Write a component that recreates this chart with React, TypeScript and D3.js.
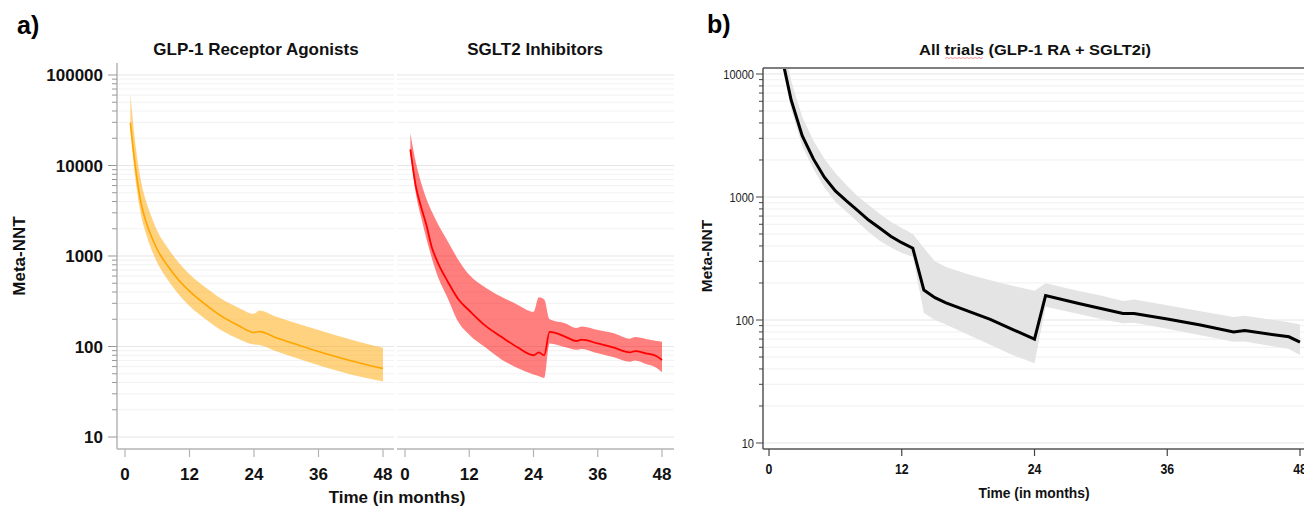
import React from 'react';
import * as d3 from 'd3';

// GLP-1 receptor agonists (months, meta-NNT with lower / upper band)
const glpMonths = [1, 2, 3, 4, 5, 6, 8, 10, 12, 15, 18, 21, 24, 25, 28, 32, 36, 40, 44, 48];
const glpNnt = [29700, 9000, 3800, 2300, 1600, 1180, 770, 540, 410, 290, 215, 172, 143, 146, 126, 105, 88, 75, 65, 57];
const glpLower = [24000, 6600, 2800, 1700, 1150, 840, 540, 375, 280, 200, 150, 122, 105, 104, 89, 74, 62, 53, 46, 41];
const glpUpper = [62000, 16000, 6600, 3900, 2650, 1900, 1220, 840, 630, 450, 335, 270, 230, 250, 215, 180, 152, 129, 111, 97];

// SGLT2 inhibitors
const sgltMonths = [1, 2, 3, 4, 5, 6, 8, 10, 12, 15, 18, 21, 24, 25, 26, 27, 30, 32, 33, 36, 39, 42, 43, 45, 47, 48];
const sgltNnt = [15100, 6000, 3500, 2200, 1250, 880, 520, 330, 250, 170, 128, 98, 80, 86, 80, 145, 128, 115, 119, 108, 97, 86, 89, 84, 78, 71];
const sgltLower = [14000, 5000, 2700, 1550, 950, 620, 340, 185, 135, 98, 72, 58, 49, 47, 45, 108, 98, 92, 94, 84, 76, 68, 70, 64, 58, 52];
const sgltUpper = [22700, 11000, 6500, 4300, 3100, 2350, 1450, 900, 620, 450, 355, 290, 242, 350, 330, 200, 180, 160, 166, 152, 140, 122, 127, 121, 115, 113];

// All trials (GLP-1 RA + SGLT2i)
const allMonths = [1, 2, 3, 4, 5, 6, 7, 8, 9, 10, 11, 12, 13, 14, 15, 16, 18, 20, 22, 24, 25, 28, 30, 32, 33, 36, 39, 42, 43, 47, 48];
const allNnt = [16100, 6150, 3150, 2050, 1450, 1120, 930, 780, 650, 560, 480, 425, 383, 175, 152, 138, 118, 101, 84, 70, 158, 136, 124, 113, 113, 102, 91, 80, 82, 73, 66];
const allLower = [14000, 5200, 2600, 1700, 1200, 916, 760, 630, 520, 440, 390, 350, 327, 114, 100, 92, 76, 63, 52, 44.5, 128, 112, 102, 94, 95, 85, 75, 66.5, 67, 58, 52];
const allUpper = [25000, 8800, 4500, 2900, 2050, 1570, 1250, 1020, 860, 730, 630, 560, 500, 385, 300, 270, 235, 210, 190, 173, 199, 172, 158, 143, 147, 132, 118, 106, 108.5, 96, 92];

const xTicks = [0, 12, 24, 36, 48];
const yTicksA = [10, 100, 1000, 10000, 100000];
const yTicksB = [10, 100, 1000, 10000];

const FONT = '"Liberation Sans", Arial, Helvetica, sans-serif';

type Pt = { m: number; v: number; lo: number; hi: number };
const zip = (ms: number[], v: number[], lo: number[], hi: number[]): Pt[] =>
  ms.map((m, i) => ({ m, v: v[i], lo: lo[i], hi: hi[i] }));

// minor log ticks 1..9 x decade
const logMinor = (from: number, to: number) => {
  const out: number[] = [];
  for (let d = from; d < to; d *= 10) for (let k = 1; k < 10; k++) out.push(d * k);
  out.push(to);
  return out;
};

const Grid = ({ y, vals, x0, x1, major }: any) => (
  <g>
    {vals.map((v: number, i: number) => (
      <line key={i} x1={x0} x2={x1} y1={y(v)} y2={y(v)}
        stroke={major.includes(v) ? '#e6e6e6' : '#f3f3f3'} strokeWidth={1.2} />
    ))}
  </g>
);

const Band = ({ data, x, y, fill, stroke, width, curve }: any) => {
  const area = d3.area<Pt>().x(d => x(d.m)).y0(d => y(d.lo)).y1(d => y(d.hi)).curve(curve);
  const line = d3.line<Pt>().x(d => x(d.m)).y(d => y(d.v)).curve(curve);
  return (
    <g>
      <path d={area(data) || ''} fill={fill} />
      <path d={line(data) || ''} fill="none" stroke={stroke} strokeWidth={width} strokeLinejoin="miter" />
    </g>
  );
};

const XAxis = ({ x, y0, x0, x1, color }: any) => (
  <g>
    <line x1={x0} x2={x1} y1={y0} y2={y0} stroke={color} strokeWidth={1.5} />
    {xTicks.map(t => (
      <g key={t}>
        <line x1={x(t)} x2={x(t)} y1={y0} y2={y0 + 8} stroke={color} strokeWidth={1.2} />
        <text x={x(t)} y={y0 + 31} textAnchor="middle" fontSize={17} fontWeight="bold" fill="#111">{t}</text>
      </g>
    ))}
  </g>
);

export default function App() {
  const yA = d3.scaleLog().domain([10, 100000]).range([437, 75]);
  const xGlp = d3.scaleLinear().domain([0, 48]).range([125, 383]);
  const xSglt = d3.scaleLinear().domain([0, 48]).range([405, 662]);
  const yB = d3.scaleLog().domain([10, 10000]).range([443, 74]);
  const xB = d3.scaleLinear().domain([0, 48]).range([769, 1300]);

  const minorA = logMinor(10, 100000);
  const minorB = logMinor(10, 10000);

  const glp = zip(glpMonths, glpNnt, glpLower, glpUpper);
  const sglt = zip(sgltMonths, sgltNnt, sgltLower, sgltUpper);
  const all = zip(allMonths, allNnt, allLower, allUpper);

  const axisGray = '#b4b4b4';

  return (
    <svg width={1304} height={509} style={{ position: 'absolute', left: 0, top: 0, background: '#fff' }}
      fontFamily={FONT}>
      <defs>
        <clipPath id="clipB"><rect x={764} y={69} width={540} height={379} /></clipPath>
        <clipPath id="clipA"><rect x={117} y={60} width={560} height={389} /></clipPath>
      </defs>

      {/* ---------- panel a ---------- */}
      <text x={17} y={34} fontSize={25} fontWeight="bold" fill="#000">a)</text>
      <text x={256} y={55} textAnchor="middle" fontSize={17} fontWeight="bold" fill="#111">GLP-1 Receptor Agonists</text>
      <text x={535} y={55} textAnchor="middle" fontSize={17} fontWeight="bold" fill="#111">SGLT2 Inhibitors</text>

      <Grid y={yA} vals={minorA} x0={118} x1={394} major={yTicksA} />
      <Grid y={yA} vals={minorA} x0={397} x1={674} major={yTicksA} />

      {/* y axis */}
      <line x1={117} x2={117} y1={63} y2={449} stroke={axisGray} strokeWidth={1.5} />
      {minorA.map((v, i) => {
        const major = yTicksA.includes(v);
        return <line key={i} x1={major ? 108 : 112} x2={117} y1={yA(v)} y2={yA(v)} stroke="#999" strokeWidth={1} />;
      })}
      {yTicksA.map(t => (
        <text key={t} x={103} y={yA(t) + 6} textAnchor="end" fontSize={17} fontWeight="bold" fill="#111">{t}</text>
      ))}
      <text transform={`translate(25,256) rotate(-90)`} textAnchor="middle" fontSize={17} fontWeight="bold" fill="#111">Meta-NNT</text>

      <g clipPath="url(#clipA)">
        <Band data={glp} x={xGlp} y={yA} fill="rgba(255,165,0,0.5)" stroke="#ffa500" width={1.6} curve={d3.curveMonotoneX} />
        <Band data={sglt} x={xSglt} y={yA} fill="rgba(255,0,0,0.5)" stroke="#ff0000" width={1.8} curve={d3.curveMonotoneX} />
      </g>

      <XAxis x={xGlp} y0={449} x0={117} x1={394} color={axisGray} />
      <XAxis x={xSglt} y0={449} x0={397} x1={674} color={axisGray} />
      <text x={397} y={503} textAnchor="middle" fontSize={17} fontWeight="bold" fill="#111">Time (in months)</text>

      {/* ---------- panel b ---------- */}
      <text x={707} y={33} fontSize={25} fontWeight="bold" fill="#000">b)</text>
      <text x={1035} y={55} textAnchor="middle" fontSize={15.5} fontWeight="bold" fill="#111"
        textLength={232} lengthAdjust="spacingAndGlyphs">All trials (GLP-1 RA + SGLT2i)</text>
      <path d="M945,58.5 l2,-1 l2,1 l2,-1 l2,1 l2,-1 l2,1 l2,-1 l2,1 l2,-1 l2,1 l2,-1 l2,1 l2,-1 l2,1 l2,-1 l2,1 l2,-1 l2,1 l2,-1"
        fill="none" stroke="#f08080" strokeWidth={0.8} />

      <Grid y={yB} vals={minorB} x0={764} x1={1304} major={yTicksB} />

      <g clipPath="url(#clipB)">
        <Band data={all} x={xB} y={yB} fill="#e4e4e4" stroke="#000" width={3} curve={d3.curveLinear} />
      </g>

      {/* frame */}
      <line x1={763} x2={1304} y1={68} y2={68} stroke="#555" strokeWidth={1.5} />
      <line x1={763} x2={763} y1={68} y2={449} stroke="#555" strokeWidth={1.5} />
      <line x1={763} x2={1304} y1={449} y2={449} stroke="#555" strokeWidth={1.5} />

      {minorB.map((v, i) => {
        const major = yTicksB.includes(v);
        return <line key={i} x1={major ? 756 : 759} x2={763} y1={yB(v)} y2={yB(v)} stroke="#444" strokeWidth={1} />;
      })}
      {yTicksB.map(t => (
        <text key={t} transform={`translate(754,${yB(t) + 4.5}) scale(0.85,1)`} textAnchor="end" fontSize={13} fill="#222">{t}</text>
      ))}
      {xTicks.map(t => (
        <g key={t}>
          <line x1={xB(t)} x2={xB(t)} y1={449} y2={456} stroke="#444" strokeWidth={1.2} />
          <text transform={`translate(${xB(t)},474) scale(0.82,1)`} textAnchor="middle" fontSize={15} fontWeight="bold" fill="#111">{t}</text>
        </g>
      ))}
      <text transform="translate(712,256) rotate(-90)" textAnchor="middle" fontSize={15.5} fontWeight="bold" fill="#111">Meta-NNT</text>
      <text x={1034} y={498} textAnchor="middle" fontSize={15} fontWeight="bold" fill="#111"
        textLength={111} lengthAdjust="spacingAndGlyphs">Time (in months)</text>
    </svg>
  );
}
